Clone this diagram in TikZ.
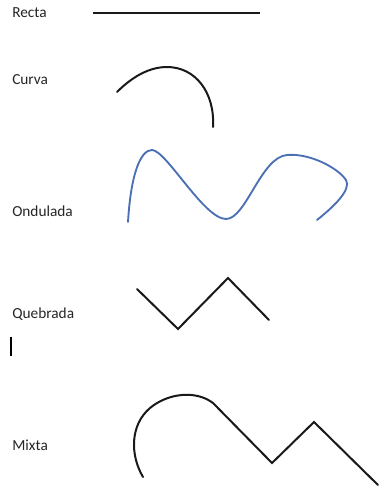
\documentclass[tikz,border=0pt]{standalone}
\usepackage{fontspec}
\setmainfont{Carlito}
\definecolor{waveblue}{RGB}{76,112,180}
\begin{document}
\begin{tikzpicture}[x=0.75pt,y=-0.75pt,
  lbl/.style={anchor=base west,inner sep=0pt,font=\fontsize{11.5}{13}\selectfont,text=black!85},
  stroke/.style={line width=1.5pt,black!90,line cap=round,line join=miter},
  thin/.style={line width=1.1pt,black!90}]
\useasboundingbox[fill=white] (0,0) rectangle (378,492);
% labels
\node[lbl] (recta) at (12,17.5) {Recta};
\node[lbl] (curva) at (12,84.5) {Curva};
\node[lbl] (ondulada) at (12,216.5) {Ondulada};
\node[lbl] (quebrada) at (12,318) {Quebrada};
\node[lbl] (mixta) at (12,450) {Mixta};
% recta
\draw[thin] (93,13) -- (260,13);
% curva
\draw[stroke] (117,92) .. controls (133,76) and (150,67) .. (167,67)
  .. controls (195,67) and (215,92) .. (213,127);
% ondulada
\draw[line width=1.4pt,waveblue,line cap=round]
  (128,222) .. controls (131,172) and (141,150) .. (152,150)
  .. controls (166,150) and (204,219) .. (226,219)
  .. controls (246,219) and (261,157) .. (287,155)
  .. controls (310,153) and (338,168) .. (346,180)
  .. controls (352,190) and (332,208) .. (317,220);
% quebrada
\draw[stroke] (137,289) -- (178,329) -- (228,278) -- (269,320);
% cursor
\draw[line width=1pt,black] (11,337) -- (11,356);
% mixta
\draw[stroke] (143,477) .. controls (130,455) and (130,425) .. (150,408)
  .. controls (168,393) and (196,390) .. (213,403)
  -- (272,463) -- (314,422) -- (378,485);
\end{tikzpicture}
\end{document}
